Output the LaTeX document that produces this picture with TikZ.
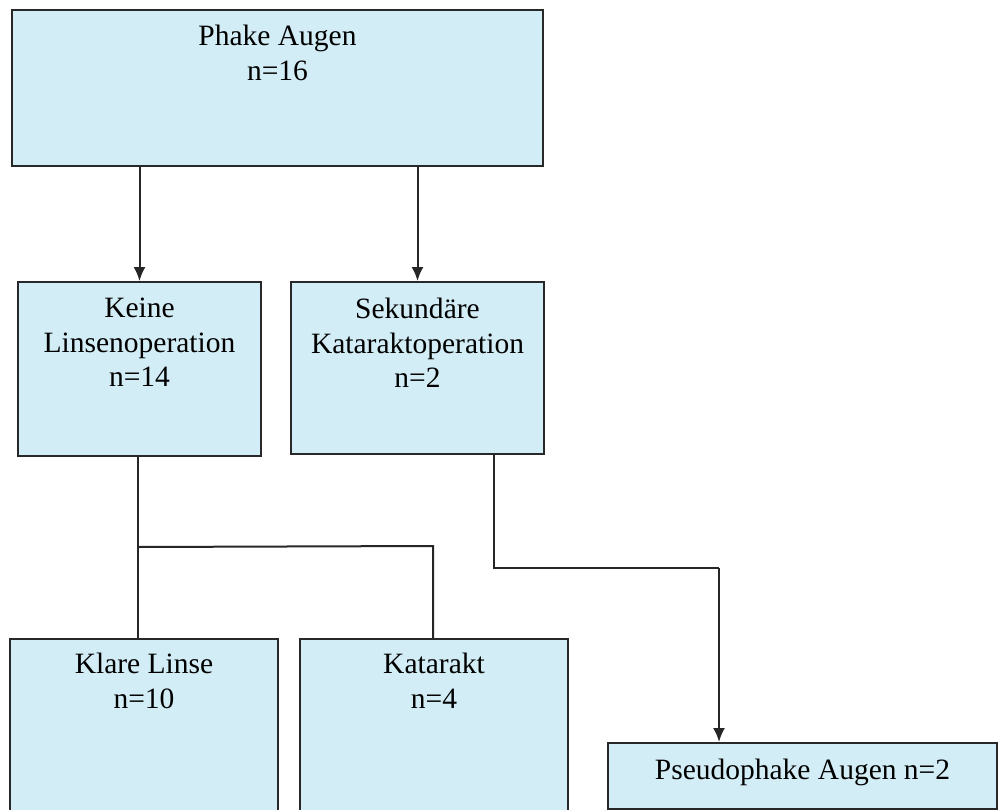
\documentclass[tikz,border=0pt]{standalone}
\usepackage{fontspec}
\setmainfont{Liberation Serif}
\usetikzlibrary{arrows.meta}
\definecolor{boxfill}{RGB}{210,237,246}
\definecolor{boxline}{RGB}{40,40,40}
\tikzset{
  box/.style={draw=boxline, fill=boxfill, line width=2pt, rectangle, anchor=north west, inner sep=0pt},
  txt/.style={anchor=north, align=center, inner sep=0pt, text=black,
              font=\fontsize{29.5}{34.5}\selectfont},
  conn/.style={draw=black!85, line width=2pt},
  arr/.style={conn, -{Latex[length=14pt,width=12pt]}},
}
\begin{document}
\begin{tikzpicture}[x=1pt,y=-1pt]
\clip (0,0) rectangle (1000,810);
\fill[white] (0,0) rectangle (1000,810);

% boxes
\node[box, minimum width=531pt, minimum height=156pt] (phake) at (11,9) {};
\node[box, minimum width=243pt, minimum height=174pt] (keine) at (17,281) {};
\node[box, minimum width=253pt, minimum height=172pt] (sek) at (290,281) {};
\node[box, minimum width=268pt, minimum height=200pt] (klare) at (9,638) {};
\node[box, minimum width=268pt, minimum height=200pt] (kat) at (299,638) {};
\node[box, minimum width=389pt, minimum height=66pt] (pseudo) at (607,742) {};

% texts
\node[txt] (phaket) at ([yshift=-16pt]phake.north) {Phake Augen\\n=16};
\node[txt] (keinet) at ([yshift=-17pt]keine.north) {Keine\\Linsenoperation\\n=14};
\node[txt] (sekt) at ([yshift=-17pt]sek.north) {Sekundäre\\Kataraktoperation\\n=2};
\node[txt] (klaret) at ([yshift=-15pt]klare.north) {Klare Linse\\n=10};
\node[txt] (katt) at ([yshift=-15pt]kat.north) {Katarakt\\n=4};
\node[txt] (pseudot) at ([yshift=-17pt]pseudo.north) {Pseudophake Augen n=2};

% connectors
\draw[arr] (keine.north |- phake.south) -- (keine.north);
\draw[arr] (sek.north |- phake.south) -- (sek.north);

\coordinate (b1) at (138,547);
\coordinate (b2) at (433,546);
\draw[conn] (keine.south -| b1) -- (klare.north -| b1);
\draw[conn] (b1) -- (b2) -- (kat.north -| b2);

\coordinate (s1) at (494,568);
\coordinate (s2) at (719,568);
\draw[conn] (sek.south -| s1) -- (s1) -- (s2);
\draw[arr] (s2) -- (pseudo.north -| s2);
\end{tikzpicture}
\end{document}
